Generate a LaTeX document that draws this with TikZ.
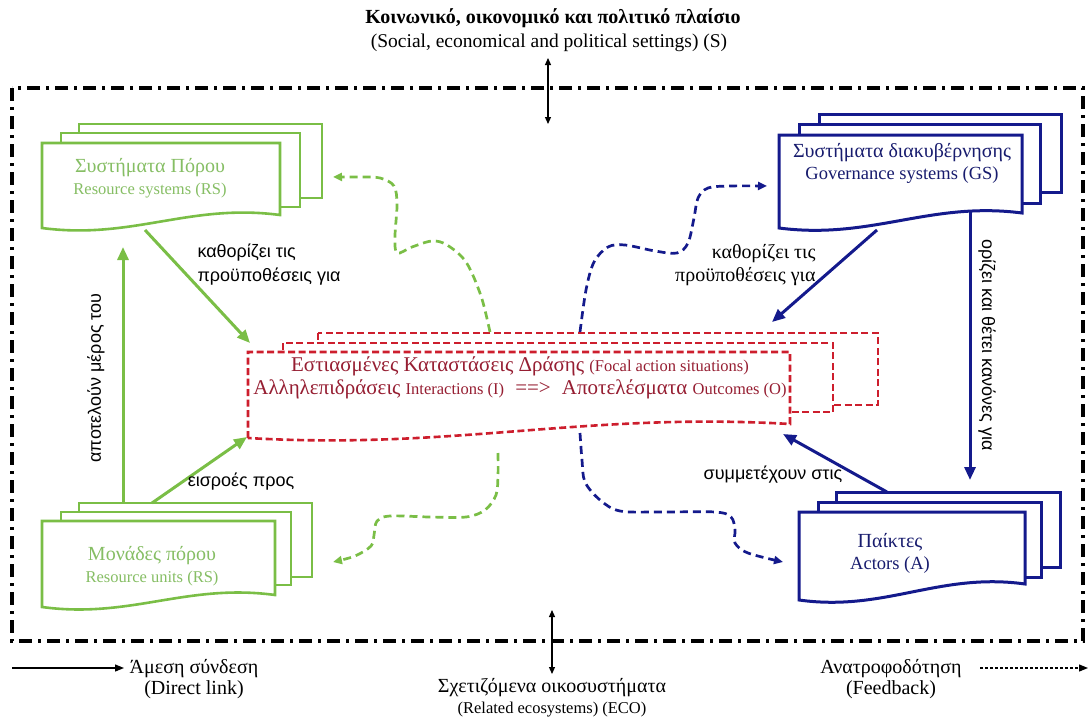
\documentclass[tikz,border=0pt]{standalone}
\usepackage{fontspec}
\setmainfont{Liberation Serif}
\setsansfont{Liberation Sans}
\usetikzlibrary{arrows.meta, calc, positioning}

\definecolor{rsgreen}{RGB}{122,190,70}
\definecolor{rstext}{RGB}{134,190,100}
\definecolor{gsblue}{RGB}{20,26,140}
\definecolor{gstext}{RGB}{24,28,110}
\definecolor{fared}{RGB}{205,30,45}
\definecolor{fatext}{RGB}{150,30,50}

% sheet with a wavy bottom: style, left, right, top, bottom left, bottom right
\newcommand{\docsheet}[6][]{%
	\draw[#1] (#2,#5) -- (#2,#4) -- (#3,#4) -- (#3,#6)
		.. controls ({#2+0.62*(#3-#2)},{#6-12}) and ({#2+0.38*(#3-#2)},{#5+12}) .. (#2,#5) -- cycle;
}
% plain sheet behind: style, left, right, top, bottom
\newcommand{\backsheet}[5][]{%
	\draw[#1] (#2,#4) rectangle (#3,#5);
}
\newcommand{\eng}[1]{{\fontsize{16.5}{18}\selectfont #1}}
\newcommand{\engL}[1]{{\fontsize{18.5}{20}\selectfont #1}}

\begin{document}
\begin{tikzpicture}[x=1pt, y=-1pt,
		rsbox/.style = {draw = rsgreen, line width = 2.6pt, fill = white},
		gsbox/.style = {draw = gsblue, line width = 3pt, fill = white},
		fabox/.style = {draw = fared, line width = 2.6pt, fill = white, dash pattern = on 7pt off 3.5pt},
		frame/.style = {line width = 4pt, dash pattern = on 13pt off 6pt on 3pt off 6pt},
		link/.style = {line width = 3pt, -{Triangle[length = 13pt, width = 11pt]}},
		fb/.style = {line width = 2.7pt, dash pattern = on 8pt off 5pt, -{Triangle[length = 9pt, width = 8pt]}},
		twoway/.style = {line width = 1.2pt, {Triangle[length = 7pt, width = 6pt]}-{Triangle[length = 7pt, width = 6pt]}},
		boxtxt/.style = {align = center, font = \fontsize{20}{22}\selectfont},
		lbl/.style = {font = \sffamily\fontsize{18}{24}\selectfont},
		lblserif/.style = {font = \fontsize{20}{23}\selectfont}
	]

	\useasboundingbox (0,0) rectangle (1089,720);

	% outer setting
	\draw[frame] (12,88) rectangle (1083,641);
	\node[font = \bfseries\fontsize{20}{22}\selectfont] (title) at (553,18) {Κοινωνικό, οικονομικό και πολιτικό πλαίσιο};
	\node[font = \fontsize{19.5}{21}\selectfont] (subtitle) at (549,43) {(Social, economical and political settings) (S)};
	\node[boxtxt, font = \fontsize{20}{21}\selectfont] (eco) at (552,698) {Σχετιζόμενα οικοσυστήματα\\\eng{(Related ecosystems) (ECO)}};
	\coordinate (Stop) at (548,58);
	\coordinate (Sbot) at (548,124);
	\coordinate (Etop) at (552,610);
	\coordinate (Ebot) at (552,674);
	\draw[twoway] (Stop) -- (Sbot);
	\draw[twoway] (Etop) -- (Ebot);

	% resource systems
	\backsheet[rsbox]{79}{322}{124}{198}
	\backsheet[rsbox]{61}{300}{133}{207}
	\docsheet[rsbox]{42}{280}{143}{228}{215}
	\node[boxtxt, text = rstext] (RS) at (150,178) {Συστήματα Πόρου\\\eng{Resource systems (RS)}};

	% resource units
	\backsheet[rsbox]{79}{312}{503}{577}
	\backsheet[rsbox]{61}{291}{512}{585}
	\docsheet[rsbox]{42}{275}{521}{607}{595}
	\node[boxtxt, text = rstext] (RU) at (152,566) {Μονάδες πόρου\\\eng{Resource units (RS)}};

	% governance systems
	\backsheet[gsbox]{819}{1061}{114}{192}
	\backsheet[gsbox]{799}{1040}{124}{203}
	\docsheet[gsbox]{779}{1022}{135}{228}{213}
	\node[boxtxt, text = gstext] (GS) at (902,163) {Συστήματα διακυβέρνησης\\\engL{Governance systems (GS)}};

	% actors
	\backsheet[gsbox]{836}{1060}{492}{567}
	\backsheet[gsbox]{818}{1041}{502}{577}
	\docsheet[gsbox]{799}{1025}{512}{600}{584}
	\node[boxtxt, text = gstext] (A) at (890,553) {Παίκτες\\\engL{Actors (A)}};

	% focal action situations
	\backsheet[fabox]{318}{878}{333}{405}
	\backsheet[fabox]{283}{833}{343}{412}
	\docsheet[fabox]{248}{790}{352}{438}{424}
	\node[boxtxt, text = fatext, font = \fontsize{21}{23}\selectfont] (FA) at (520,378) {Εστιασμένες Καταστάσεις Δράσης \eng{(Focal action situations)}\\Αλληλεπιδράσεις \eng{Interactions (I)} \;==>\; Αποτελέσματα \eng{Outcomes (O)}};

	% link end points
	\coordinate (RSout) at (145,230);
	\coordinate (RSin) at (123,247);
	\coordinate (RUtop) at (123,503);
	\coordinate (RUout) at (152,503);
	\coordinate (GSout) at (877,230);
	\coordinate (GSdown) at (970,212);
	\coordinate (Ain) at (970,480);
	\coordinate (Aout) at (887,492);
	\coordinate (FAnw) at (250,343);
	\coordinate (FAsw) at (247,437);
	\coordinate (FAne) at (772,322);
	\coordinate (FAse) at (783,434);

	% direct links
	\draw[link, rsgreen] (RSout) -- (FAnw);
	\draw[link, rsgreen] (RUtop) -- (RSin);
	\draw[link, rsgreen] (RUout) -- (FAsw);
	\draw[link, gsblue] (GSout) -- (FAne);
	\draw[link, gsblue] (GSdown) -- (Ain);
	\draw[link, gsblue] (Aout) -- (FAse);

	% link labels
	\node[lbl, anchor = north west, align = left] (RSlbl) at (194,240) {καθορίζει τις\\προϋποθέσεις για};
	\node[lblserif, anchor = north east, align = right] (GSlbl) at (819,241) {καθορίζει τις\\προϋποθέσεις για};
	\node[lbl] (RUlbl) at (241,482) {εισροές προς};
	\node[lbl] (Albl) at (773,475) {συμμετέχουν στις};
	\node[lbl, rotate = 90] (partlbl) at (96,378) {αποτελούν μέρος του};
	\node[lbl, rotate = -90] (rulelbl) at (987,345) {ορίζει και θέτει κανόνες για};

	% feedback links
	\draw[fb, rsgreen] plot[smooth, tension = 0.55] coordinates {(490,332) (481,296) (466,262) (447,245) (432,241) (412,247) (397,253) (395,236) (397,205) (394,186) (380,178) (360,177) (333,177)};
	\draw[fb, gsblue] plot[smooth, tension = 0.55] coordinates {(580,332) (586,290) (594,262) (608,247) (625,245) (655,251) (677,253) (688,243) (694,218) (698,198) (708,188) (730,186) (767,186)};
	\draw[fb, rsgreen] plot[smooth, tension = 0.55] coordinates {(498,453) (498,475) (496,495) (485,510) (466,517) (430,517) (390,516) (377,521) (374,535) (371,546) (355,556) (333,562)};
	\draw[fb, gsblue] plot[smooth, tension = 0.55] coordinates {(580,433) (582,460) (585,482) (600,500) (620,511) (660,512) (715,512) (731,517) (735,530) (735,543) (748,553) (783,562)};

	% legend
	\coordinate (DLa) at (12,668);
	\coordinate (DLb) at (124,668);
	\coordinate (FBa) at (980,668);
	\coordinate (FBb) at (1088,668);
	\draw[line width = 1.2pt, -{Triangle[length = 9pt, width = 7pt]}] (DLa) -- (DLb);
	\draw[line width = 1.2pt, dash pattern = on 3pt off 2pt, -{Triangle[length = 9pt, width = 7pt]}] (FBa) -- (FBb);
	\node[boxtxt, font = \fontsize{20}{21}\selectfont] (direct) at (194,679) {Άμεση σύνδεση\\(Direct link)};
	\node[boxtxt, font = \fontsize{20}{21}\selectfont] (feedback) at (891,679) {Ανατροφοδότηση\\(Feedback)};

\end{tikzpicture}
\end{document}
